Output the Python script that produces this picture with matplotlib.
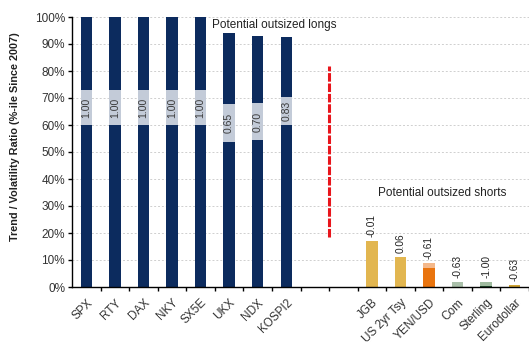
import matplotlib.pyplot as plt
import numpy as np
from matplotlib import font_manager

plt.rcParams['font.family'] = ['Liberation Sans', 'DejaVu Sans']

# Trend/vol percentile per asset, plus the ratio printed on each bar
long_names = ["SPX", "RTY", "DAX", "NKY", "SX5E", "UKX", "NDX", "KOSPI2"]
long_pct = [100, 100, 100, 100, 100, 94, 93, 92.5]
long_ratio = [1.00, 1.00, 1.00, 1.00, 1.00, 0.65, 0.70, 0.83]

short_names = ["JGB", "US 2yr Tsy", "YEN/USD", "Com", "Sterling", "Eurodollar"]
short_pct = [17, 11.2, 8.8, 2.0, 2.0, 0.6]
short_ratio = [-0.01, 0.06, -0.61, -0.63, -1.00, -0.63]

gap = 2  # empty slots between the two groups

navy = "#0c2b5e"
box_col = "#c3cbd8"
short_cols = ["#e2b650", "#e2b650", "#e9740e", "#aac0aa", "#1e4a2b", "#cfa433"]
short_caps = [None, None, "#f4b88a", None, "#9fbb9f", None]

x_long = np.arange(len(long_names))
x_short = np.arange(len(short_names)) + len(long_names) + gap
labels = long_names + [""] * gap + short_names
x_all = np.arange(len(labels))

installed = {f.name for f in font_manager.fontManager.ttflist}
narrow = "Liberation Sans Narrow" if "Liberation Sans Narrow" in installed else "Liberation Sans"

fig = plt.figure(figsize=(5.29, 3.45), dpi=100)
ax = fig.add_axes([72 / 529, 58 / 345, 457 / 529, 270 / 345])

ax.set_axisbelow(True)
ax.yaxis.grid(True, linestyle=(0, (2, 2)), color="#cfcfcf", linewidth=0.7)

w = 0.4
ax.bar(x_long, long_pct, width=w, color=navy, zorder=2)

# light label boxes inside the long bars
label_mid = [66.5, 66.5, 66.5, 66.5, 66.5, 60.8, 61.3, 65.3]
box_h = [13, 13, 13, 13, 13, 14, 13.5, 10.5]
for xi, ym, bh, r in zip(x_long, label_mid, box_h, long_ratio):
    ax.bar(xi, bh, bottom=ym - bh / 2, width=w, color=box_col, zorder=3)
    ax.text(xi, ym, f"{r:.2f}", rotation=90, ha="center", va="center",
            fontsize=7.5, color="#3a3a3a", zorder=4)

ax.bar(x_short, short_pct, width=w, color=short_cols, zorder=2)
cap_h = 1.8
for xi, h, cap in zip(x_short, short_pct, short_caps):
    if cap:
        ax.bar(xi, min(cap_h, h), bottom=max(h - cap_h, 0), width=w, color=cap, zorder=3)
for xi, h, r in zip(x_short, short_pct, short_ratio):
    ax.text(xi, h + 1.5, f"{r:.2f}", rotation=90, ha="center", va="bottom",
            fontsize=7.3, color="#222222")

# divider between the long and short groups
ax.plot([len(long_names) + 0.5] * 2, [18.5, 82], color="#e8151c", linewidth=2.2,
        dashes=(2.8, 0.6), solid_capstyle="butt", zorder=3)

ax.text(4.4, 97, "Potential outsized longs", fontsize=8.5, color="#222222",
        ha="left", va="center")
ax.text(10.2, 35, "Potential outsized shorts", fontsize=8.5, color="#222222",
        ha="left", va="center")

ax.set_xlim(-0.5, len(labels) - 0.57)
ax.set_ylim(0, 100)
ax.set_yticks(np.arange(0, 101, 10))
ax.set_yticklabels([f"{v}%" for v in range(0, 101, 10)], fontsize=8.5, color="#333333")

ax.set_xticks(x_all + 0.5)
ax.set_xticklabels([])
ax.set_xticks(x_all, minor=True)
ax.set_xticklabels(labels, minor=True, rotation=45, ha="right",
                   rotation_mode="anchor", fontsize=8.5, color="#333333")
ax.tick_params(axis="x", which="minor", length=0, pad=7)
ax.tick_params(axis="x", which="major", length=3, width=1, direction="out")
ax.tick_params(axis="y", length=3, width=1, direction="out", pad=2)

for s in ["top", "right"]:
    ax.spines[s].set_visible(False)
for s in ["left", "bottom"]:
    ax.spines[s].set_linewidth(1)
    ax.spines[s].set_color("black")

fig.text(15 / 529, 1 - 137 / 345, "Trend / Volatility Ratio (%-ile Since 2007)",
         rotation=90, ha="center", va="center", fontsize=7.8, fontweight="bold",
         family=narrow, color="#222222")

fig.savefig("out.png", dpi=100)
